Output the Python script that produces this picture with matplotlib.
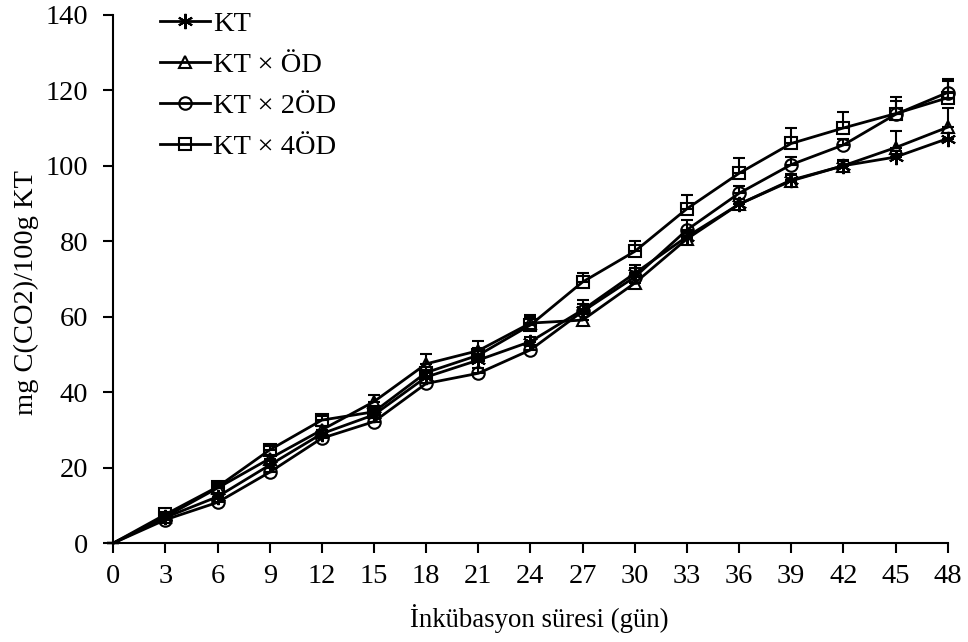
import numpy as np
import matplotlib.pyplot as plt

days = [0, 3, 6, 9, 12, 15, 18, 21, 24, 27, 30, 33, 36, 39, 42, 45, 48]

kt = [0, 6.8, 12.3, 20.7, 29.0, 34.0, 44.0, 48.5, 53.4, 61.8, 71.5, 81.2, 89.8, 96.2, 100.0, 102.3, 107.2]
kt_od = [0, 7.0, 14.6, 22.4, 30.0, 37.5, 47.5, 51.0, 58.3, 59.1, 68.9, 80.6, 89.8, 96.0, 100.0, 104.8, 110.2]
kt_2od = [0, 6.2, 10.8, 18.8, 27.8, 32.2, 42.3, 45.0, 51.2, 61.4, 70.5, 83.0, 92.7, 100.3, 105.5, 113.6, 119.4]
kt_4od = [0, 7.6, 14.9, 24.7, 32.6, 34.8, 45.2, 49.8, 57.8, 69.2, 77.3, 88.6, 98.0, 105.9, 110.0, 113.8, 118.0]

err_kt = [0, 0.6, 0.8, 1.0, 1.0, 1.2, 1.5, 1.5, 1.3, 2.6, 2.2, 1.5, 1.5, 1.5, 1.2, 1.5, 1.5]
err_od = [0, 0.6, 0.8, 1.0, 1.0, 1.7, 2.5, 2.5, 1.5, 1.5, 1.5, 1.5, 1.5, 1.5, 1.5, 4.5, 5.0]
err_2od = [0, 0.6, 0.8, 1.0, 1.0, 1.0, 1.5, 1.5, 1.0, 2.0, 2.5, 2.7, 2.0, 2.0, 1.5, 3.5, 3.5]
err_4od = [0, 0.6, 1.0, 1.0, 1.0, 1.0, 1.5, 2.0, 2.7, 2.5, 2.8, 3.7, 4.0, 4.0, 4.3, 4.5, 4.5]

labels = ['KT', 'KT × ÖD', 'KT × 2ÖD', 'KT × 4ÖD']
markers = [(6, 2, 0), '^', 'o', 's']
msizes = [11, 9, 9, 9]

plt.rcParams['font.family'] = ['Liberation Serif', 'DejaVu Serif']

fig = plt.figure(figsize=(9.68, 6.42), dpi=100)
ax = fig.add_axes([0.117, 0.154, 0.862, 0.823])

series = [kt, kt_od, kt_2od, kt_4od]
errors = [err_kt, err_od, err_2od, err_4od]
for vals, err, lab, mk, ms in zip(series, errors, labels, markers, msizes):
    lower = np.zeros(len(err))
    line, caps, bars = ax.errorbar(
        days, vals, yerr=[lower, err], color='black', lw=2,
        marker=mk, markersize=ms, markerfacecolor='none',
        markeredgecolor='black', markeredgewidth=1.5,
        markevery=list(range(1, len(days))),
        ecolor='black', elinewidth=1.5, capsize=4, capthick=1.5,
        label=lab)
    line.set_clip_on(False)
    for c in caps:
        c.set_clip_on(False)
    for b in bars:
        b.set_clip_on(False)

ax.set_xlim(0, 48)
ax.set_ylim(0, 140)
ax.set_xticks(days)
ax.set_yticks(range(0, 141, 20))
ax.spines['top'].set_visible(False)
ax.spines['right'].set_visible(False)
ax.spines['left'].set_linewidth(1.5)
ax.spines['bottom'].set_linewidth(1.5)
ax.tick_params(direction='out', length=7, width=1.5, labelsize=20.5)
ax.tick_params(axis='y', pad=11)
ax.tick_params(axis='x', pad=8)

ax.set_xlabel('İnkübasyon süresi (gün)', fontsize=19.3, labelpad=11)
ax.set_ylabel('mg C(CO2)/100g KT', fontsize=20.5, labelpad=4.5)
ax.xaxis.label.set_x(0.51)
ax.yaxis.label.set_y(0.475)

handles, labs = ax.get_legend_handles_labels()
handles = [h[0] for h in handles]
ax.legend(handles, labs, loc='upper left', bbox_to_anchor=(0.056, 1.007),
          frameon=False, fontsize=20.5, handlelength=1.75, handletextpad=0.1,
          labelspacing=0.53, borderpad=0, borderaxespad=0)

fig.savefig('out.png', dpi=100)
